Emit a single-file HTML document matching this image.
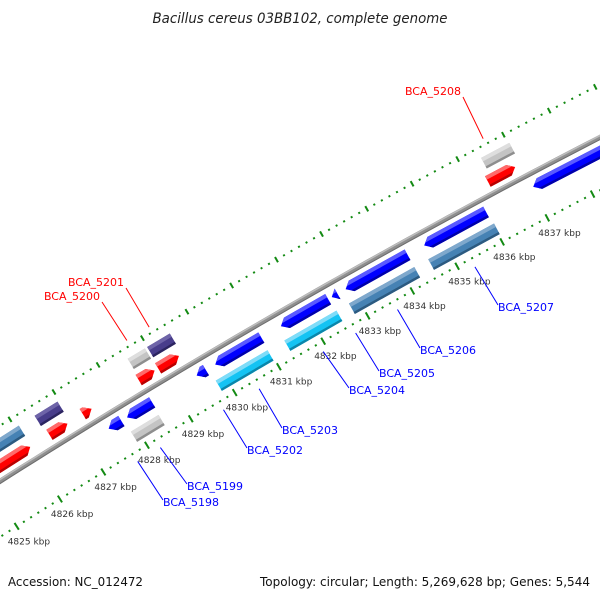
<!DOCTYPE html>
<html><head><meta charset="utf-8"><style>
html,body{margin:0;padding:0;background:#fff;}
svg{display:block;}
text{font-family:"DejaVu Sans","Liberation Sans",sans-serif;}
</style></head><body>
<svg id="map" width="600" height="600" viewBox="0 0 600 600" xmlns="http://www.w3.org/2000/svg">
<rect width="600" height="600" fill="#fff"/>
<text x="300" y="23" text-anchor="middle" font-size="14" font-style="italic" fill="#222" textLength="295" lengthAdjust="spacingAndGlyphs">Bacillus cereus 03BB102, complete genome</text>
<g id="ticks"></g>
<g id="backbone"></g>
<g id="features"></g>
<g id="labels"></g>
<text x="8" y="586" font-size="12" fill="#111" textLength="135" lengthAdjust="spacingAndGlyphs">Accession: NC_012472</text>
<text x="260" y="586" font-size="12" fill="#111" textLength="330" lengthAdjust="spacingAndGlyphs">Topology: circular; Length: 5,269,628 bp; Genes: 5,544</text>
</svg>
<script>
// ---- data ----
const featStart = [4824.0, 4826.44, 4828.55, 4828.99, 4836.41, 4824.0, 4826.49, 4827.25, 4828.52, 4828.96, 4836.31, 4827.53, 4827.95, 4829.53, 4829.95, 4831.43, 4832.57, 4832.88, 4834.63, 4837.04, 4827.87, 4829.80, 4831.35, 4832.80, 4834.57];
const featEnd   = [4826.08, 4826.96, 4828.94, 4829.50, 4837.03, 4826.05, 4826.90, 4827.45, 4828.88, 4829.43, 4836.91, 4827.82, 4828.52, 4829.74, 4830.99, 4832.49, 4832.70, 4834.26, 4836.00, 4839.50, 4828.50, 4830.97, 4832.52, 4834.26, 4836.03];
const featTrack = ['UO','UO','UO','UO','UO','UI','UI','UI','UI','UI','UI','LI','LI','LI','LI','LI','LI','LI','LI','LI','LO','LO','LO','LO','LO'];
const featKind  = ['steel','purple','gray','purple','gray','red','red','red','red','red','red','blue','blue','blue','blue','blue','blue','blue','blue','blue','gray','cyan','cyan','steel','steel'];
const tickLabels = [4825,4826,4827,4828,4829,4830,4831,4832,4833,4834,4835,4836,4837];
const geneNames = ['BCA_5198','BCA_5199','BCA_5202','BCA_5203','BCA_5204','BCA_5205','BCA_5206','BCA_5207','BCA_5200','BCA_5201','BCA_5208'];
const geneKbp   = [4827.68, 4828.2, 4829.64, 4830.45, 4831.9, 4832.63, 4833.57, 4835.3, 4828.72, 4829.22, 4836.62];

// ---- layout (not data) ----
const labelSide = ['L','L','L','L','L','L','L','L','U','U','U'];
const labelAnchorX = [163,187,247,282,349,379,420,498,100,124,461];
const labelAnchorY = [506,490,454,434,394,377,354,311,300,286,95];

const K0=4828, A0=-121.33, DEG=0.385, CX=4106, CY=6949;
const RING={UO:7692,UI:7674,LI:7648,LO:7628};
const H=6, HEADPX=7;
const COL={
 red:['#ff0000','#ff6a6a','#b80000'],
 blue:['#0000ff','#5a5aff','#0000a8'],
 cyan:['#14c3f3','#7fdcf8','#0b86aa'],
 steel:['#4682b4','#7fa8cc','#2c5a80'],
 gray:['#c4c4c4','#dedede','#8e8e8e'],
 purple:['#483d8b','#6e64a8','#2c2560']
};
const NS='http://www.w3.org/2000/svg';
function ang(k){return (A0+(k-K0)*DEG)*Math.PI/180;}
function pt(k,r){const a=ang(k);return [CX+r*Math.cos(a),CY+r*Math.sin(a)];}
function kPerPx(r){return 1/(r*DEG*Math.PI/180);}
function poly(g,pts,fill,name){
  const p=document.createElementNS(NS,'polygon');
  p.setAttribute('points',pts.map(q=>q[0].toFixed(2)+','+q[1].toFixed(2)).join(' '));
  p.setAttribute('fill',fill);
  
  
  g.appendChild(p);
}
function line(g,a,b,stroke,w,name){
  const l=document.createElementNS(NS,'line');
  l.setAttribute('x1',a[0]);l.setAttribute('y1',a[1]);l.setAttribute('x2',b[0]);l.setAttribute('y2',b[1]);
  l.setAttribute('stroke',stroke);l.setAttribute('stroke-width',w);
  
  
  g.appendChild(l);
}
function arcPath(g,k1,k2,r,stroke,w,name){
  let d='';
  for(let i=0;i<=60;i++){const k=k1+(k2-k1)*i/60;const q=pt(k,r);d+=(i?'L':'M')+q[0].toFixed(2)+' '+q[1].toFixed(2);}
  const p=document.createElementNS(NS,'path');
  p.setAttribute('d',d);p.setAttribute('fill','none');p.setAttribute('stroke',stroke);p.setAttribute('stroke-width',w);
  
  
  g.appendChild(p);
}

// ticks
const tg=document.getElementById('ticks');
const RL=7614, RU=7708;
for(let i=0;i<=16*6;i++){
  const k=4824+i/6;
  const major=(i%6===0);
  if(major){
    line(tg,pt(k,RL-4),pt(k,RL+4),'#138a13',2,'lower-major-tick');
    line(tg,pt(k,RU-3),pt(k,RU+3),'#138a13',2,'upper-major-tick');
  }else{
    line(tg,pt(k,RL-1),pt(k,RL+1),'#138a13',2,'lower-minor-tick');
    line(tg,pt(k,RU-1),pt(k,RU+1),'#138a13',2,'upper-minor-tick');
  }
}
tickLabels.forEach(k=>{
  const q=pt(k,RL);
  const t=document.createElementNS(NS,'text');
  t.setAttribute('x',(q[0]-9).toFixed(1));t.setAttribute('y',(q[1]+18).toFixed(1));
  t.setAttribute('font-size','9');t.setAttribute('fill','#333');
  
  
  t.textContent=k+' kbp';
  tg.appendChild(t);
});

// backbone
const bg=document.getElementById('backbone');
arcPath(bg,4823,4841,7661,'#8f8f8f',5,'backbone-line');
arcPath(bg,4823,4841,7662.5,'#bdbdbd',1.5,'backbone-highlight');
arcPath(bg,4823,4841,7659,'#6e6e6e',1,'backbone-shadow');

// features
const fg=document.getElementById('features');
function shape(k1,k2,rc,dir,kind,f){
  // returns polygon points for band between r fractions (f in [-1,1] scaled by H)
}
featStart.forEach((s,i)=>{
  const e=featEnd[i], tr=featTrack[i], kind=featKind[i];
  const rc=RING[tr];
  const c=COL[kind];
  const arrow=(kind==='red'||kind==='blue');
  const fwd=(tr==='UI'||tr==='UO');
  const hk=HEADPX*kPerPx(rc);
  const name='gene-'+kind+'-'+i;
  const g=document.createElementNS(NS,'g');
  
  
  fg.appendChild(g);
  // outline function for band [ra,rb] as fractions of H (-1..1)
  function band(fa,fb){
    const ra=rc+fa*H, rb=rc+fb*H;
    if(!arrow){
      return [pt(s,rb),pt(e,rb),pt(e,ra),pt(s,ra)];
    }
    const len=e-s, h=Math.min(hk,len);
    // head edge: at fraction f, head x offset = h*(1-|f|)
    if(fwd){
      const b=e-h;
      const pts=[pt(s,rb)];
      pts.push(pt(b,rb)); pts.push(pt(b+h*(1-Math.abs(fb)),rb));
      if(fa<0&&fb>0) pts.push(pt(e,rc));
      pts.push(pt(b+h*(1-Math.abs(fa)),ra)); pts.push(pt(b,ra));
      pts.push(pt(s,ra));
      return pts.filter(Boolean);
    }else{
      const b=s+h;
      const pts=[pt(e,rb),pt(b,rb),pt(b-h*(1-Math.abs(fb)),rb)];
      if(fa<0&&fb>0) pts.push(pt(s,rc));
      pts.push(pt(b-h*(1-Math.abs(fa)),ra)); pts.push(pt(b,ra)); pts.push(pt(e,ra));
      return pts;
    }
  }
  poly(g,band(-1,1),c[0],name+'-body');
  poly(g,band(0.35,1),c[1],name+'-highlight');
  poly(g,band(-1,-0.6),c[2],name+'-shadow');
});

// gene labels
const lg=document.getElementById('labels');
geneNames.forEach((nm,i)=>{
  const up=labelSide[i]==='U';
  const col=up?'#ff0000':'#0000ff';
  const st=pt(geneKbp[i],up?7714:7605);
  const en=up?[labelAnchorX[i]+2,labelAnchorY[i]+2]:[labelAnchorX[i],labelAnchorY[i]-6];
  line(lg,st,en,col,1,'leader-'+nm);
  const t=document.createElementNS(NS,'text');
  t.setAttribute('x',labelAnchorX[i]);t.setAttribute('y',labelAnchorY[i]);
  t.setAttribute('font-size','11');t.setAttribute('fill',col);
  if(up) t.setAttribute('text-anchor','end');
  
  
  t.textContent=nm;
  lg.appendChild(t);
});
</script>
</body></html>
